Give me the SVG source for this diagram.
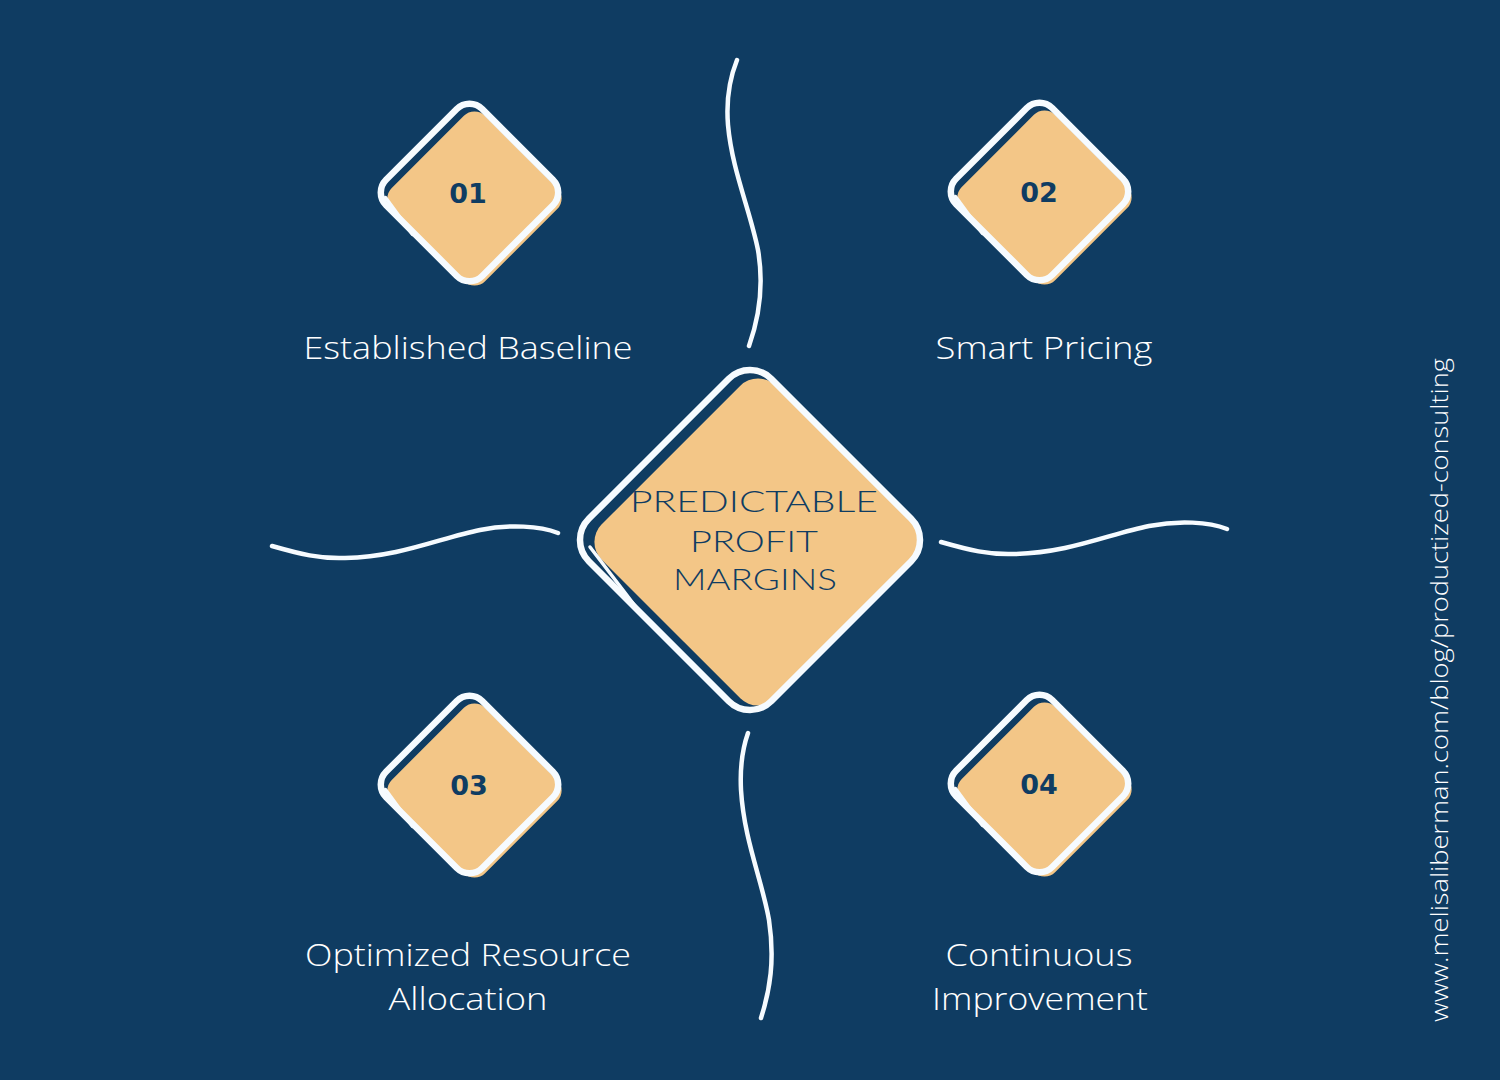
<svg xmlns="http://www.w3.org/2000/svg" xmlns:xlink="http://www.w3.org/1999/xlink" width="1500" height="1080" viewBox="0 0 1500 1080">
  <style>
    .bg { fill: #0f3c62; }
    .fill { fill: #f3c687; }
    .outline { fill: none; stroke: #f6fbff; stroke-width: 6.5; }
    .extra { fill: none; stroke: #f6fbff; stroke-width: 3.5; stroke-linecap: round; }
    .wave { fill: none; stroke: #f6fbff; stroke-width: 4.5; stroke-linecap: round; }
    .num { font-family: "DejaVu Sans", "Noto Sans", sans-serif; font-weight: 700; font-size: 27px; fill: #0f3c62; text-anchor: middle; }
    .label { font-family: "Open Sans", "Liberation Sans", sans-serif; font-weight: 300; font-size: 31px; fill: #ffffff; text-anchor: middle; }
    .center { font-family: "Lato", "Liberation Sans", sans-serif; font-weight: 300; font-size: 29px; fill: #0f3c62; text-anchor: middle; }
    .url { font-family: "Open Sans", "Liberation Sans", sans-serif; font-weight: 300; font-size: 24px; fill: #ffffff; text-anchor: middle; }
  </style>
  <defs>
    <g id="smallDiamond">
      <rect class="fill" x="-66" y="-66" width="132" height="132" rx="15" transform="translate(5,6) rotate(45)"/>
      <rect class="outline" x="-68" y="-68" width="136" height="136" rx="18" transform="rotate(45)"/>
      <line class="extra" x1="-84" y1="5" x2="-57" y2="42"/>
    </g>
  </defs>
  <rect class="bg" x="0" y="0" width="1500" height="1080"/>

  <g id="connectors">
    <path class="wave" d="M737,60 C729,80 726,100 728,125 C732,170 750,210 758,250 C764,285 760,315 749,346"/>
    <path class="wave" d="M748,733 C742,750 740,770 741,790 C744,840 762,880 769,920 C775,960 770,990 761,1018"/>
    <path class="wave" d="M272,546 C300,554 320,559 345,558 C400,557 440,538 480,530 C510,524 540,526 558,533"/>
    <path class="wave" d="M941,542 C969,550 989,555 1014,554 C1069,553 1109,534 1149,526 C1179,520 1209,522 1227,529"/>
  </g>

  <g id="node-center">
    <rect class="fill" x="-123" y="-123" width="246" height="246" rx="25" transform="translate(758,542) rotate(45)"/>
    <rect class="outline" x="-129" y="-129" width="258" height="258" rx="30" transform="translate(750,540) rotate(45)"/>
    <line class="extra" x1="590" y1="547" x2="642" y2="615"/>
    <text class="center" x="754" y="512" textLength="248" lengthAdjust="spacingAndGlyphs">PREDICTABLE</text>
    <text class="center" x="754" y="552" textLength="128" lengthAdjust="spacingAndGlyphs">PROFIT</text>
    <text class="center" x="755" y="590" textLength="164" lengthAdjust="spacingAndGlyphs">MARGINS</text>
  </g>

  <g id="node-01">
    <use xlink:href="#smallDiamond" transform="translate(469.5,192.5)"/>
    <text class="num" x="468" y="203">01</text>
    <text class="label" x="468" y="359" textLength="329" lengthAdjust="spacingAndGlyphs">Established Baseline</text>
  </g>

  <g id="node-02">
    <use xlink:href="#smallDiamond" transform="translate(1039.5,191.5)"/>
    <text class="num" x="1039" y="202">02</text>
    <text class="label" x="1044" y="359" textLength="217" lengthAdjust="spacingAndGlyphs">Smart Pricing</text>
  </g>

  <g id="node-03">
    <use xlink:href="#smallDiamond" transform="translate(469.5,784.5)"/>
    <text class="num" x="469" y="795">03</text>
    <text class="label" x="468" y="966" textLength="326" lengthAdjust="spacingAndGlyphs">Optimized Resource</text>
    <text class="label" x="468" y="1010" textLength="159" lengthAdjust="spacingAndGlyphs">Allocation</text>
  </g>

  <g id="node-04">
    <use xlink:href="#smallDiamond" transform="translate(1039.5,783.5)"/>
    <text class="num" x="1039" y="794">04</text>
    <text class="label" x="1039" y="966" textLength="187" lengthAdjust="spacingAndGlyphs">Continuous</text>
    <text class="label" x="1040" y="1010" textLength="216" lengthAdjust="spacingAndGlyphs">Improvement</text>
  </g>

  <text class="url" transform="translate(1448,690) rotate(-90)" x="0" y="0" textLength="664" lengthAdjust="spacingAndGlyphs">www.melisaliberman.com/blog/productized-consulting</text>
</svg>
